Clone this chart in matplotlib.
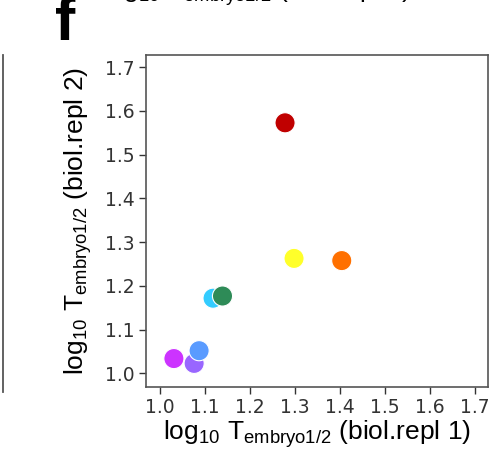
import matplotlib
matplotlib.use("Agg")
import matplotlib.pyplot as plt
from matplotlib.lines import Line2D

plt.rcParams["mathtext.fontset"] = "custom"
plt.rcParams["mathtext.rm"] = "Liberation Sans"
plt.rcParams["mathtext.it"] = "Liberation Sans"

# log10 half-life per strain, biological replicate 1 vs replicate 2
strains = ["magenta", "purple", "blue", "cyan", "green", "yellow", "orange", "red"]
repl1 = [1.031, 1.076, 1.087, 1.118, 1.139, 1.298, 1.404, 1.278]
repl2 = [1.034, 1.023, 1.052, 1.172, 1.177, 1.263, 1.258, 1.573]
colors = ["#cc33ff", "#9966ff", "#5a9bff", "#33ccff", "#2e8b57",
          "#ffff2a", "#ff7000", "#c00000"]
ticks = [1.0, 1.1, 1.2, 1.3, 1.4, 1.5, 1.6, 1.7]
tick_labels = ["1.0", "1.1", "1.2", "1.3", "1.4", "1.5", "1.6", "1.7"]

label_fmt = r"log$_{10}$ T$_{\mathrm{embryo1/2}}$ (biol.repl %d)"

fig = plt.figure(figsize=(4.91, 4.54), dpi=100)
ax = fig.add_axes([146 / 491, 1 - 387 / 454, 342 / 491, 332 / 454])

ax.scatter(repl1, repl2, s=210, c=colors, edgecolors="white",
           linewidths=0.8, zorder=3)

ax.set_xlim(0.969, 1.729)
ax.set_ylim(0.969, 1.728)
ax.set_xticks(ticks)
ax.set_xticklabels(tick_labels)
ax.set_yticks(ticks)
ax.set_yticklabels(tick_labels)
ax.tick_params(axis="both", labelsize=13.5, colors="#333333", length=5,
               width=1.0, pad=3)
for sp in ax.spines.values():
    sp.set_color("#555555")
    sp.set_linewidth(1.2)

ax.set_xlabel(label_fmt % 1, fontsize=19, family="Liberation Sans",
              labelpad=1)
ax.set_ylabel(label_fmt % 2, fontsize=19, family="Liberation Sans",
              labelpad=8)

# panel letter and the neighbouring panel's label above
fig.text(55 / 491, 1 - 40 / 454, "f", fontsize=44, fontweight="bold",
         family="Liberation Sans", va="baseline", ha="left")
fig.text(257 / 491, 1 + 2 / 454, label_fmt % 1, fontsize=19,
         family="Liberation Sans", va="baseline", ha="center")

# edge of the neighbouring panel on the left
fig.add_artist(Line2D([2.5 / 491, 2.5 / 491], [1 - 55 / 454, 1 - 392 / 454],
                      color="#555555", linewidth=1.3,
                      transform=fig.transFigure))

fig.savefig("out.png", dpi=100)
